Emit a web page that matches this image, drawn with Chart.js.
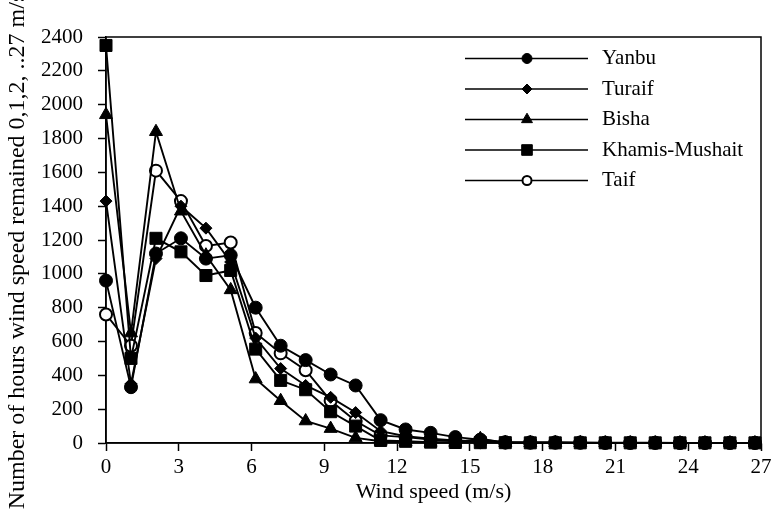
<!DOCTYPE html>
<html><head><meta charset="utf-8">
<script src="https://cdn.jsdelivr.net/npm/chart.js@4/dist/chart.umd.min.js"></script>
<style>html,body{margin:0;padding:0;background:#fff}#wrap{width:778px;height:513px}</style>
</head><body><div id="wrap"><canvas id="c" width="778" height="513"></canvas></div>
<script>
// Wind speed bins (m/s)
const windSpeeds = [0, 1.03, 2.06, 3.09, 4.12, 5.14, 6.17, 7.2, 8.23, 9.26, 10.29, 11.32, 12.35, 13.38, 14.4, 15.43, 16.46, 17.49, 18.52, 19.55, 20.58, 21.61, 22.64, 23.66, 24.69, 25.72, 26.75];
const stationNames = ['Yanbu', 'Turaif', 'Bisha', 'Khamis-Mushait', 'Taif'];
const yanbu   = [960, 330, 1120, 1210, 1090, 1110, 800, 575, 490, 405, 340, 135, 80, 60, 35, 20, 5, 4, 4, 3, 2, 2, 2, 1, 1, 1, 1];
const turaif  = [1430, 350, 1090, 1400, 1270, 1070, 620, 440, 340, 270, 180, 70, 40, 25, 15, 10, 3, 2, 2, 1, 1, 1, 0, 0, 0, 0, 0];
const bisha   = [1940, 650, 1840, 1370, 1110, 905, 378, 250, 130, 85, 30, 10, 5, 3, 3, 25, 2, 1, 1, 1, 0, 0, 0, 0, 0, 0, 0];
const khamis  = [2350, 500, 1210, 1130, 990, 1020, 555, 370, 315, 185, 100, 15, 10, 5, 3, 2, 2, 1, 1, 1, 1, 1, 1, 1, 1, 1, 1];
const taif    = [760, 575, 1610, 1430, 1165, 1185, 650, 530, 430, 250, 130, 45, 35, 20, 10, 5, 2, 1, 1, 1, 0, 0, 0, 0, 0, 0, 0];
const xTickStep = 3, xMin = 0, xMax = 27;
const yTickStep = 200, yMin = 0, yMax = 2400;
const xTitle = 'Wind speed (m/s)';
const yTitle = 'Number of hours wind speed remained 0,1,2, ..27 m/s';

const seriesValues = [yanbu, turaif, bisha, khamis, taif];
const styles = [
  {pointStyle: 'circle',   radius: 6.5, bg: '#000', bw: 1,   lr: 5},
  {pointStyle: 'rectRot',  radius: 6,   bg: '#000', bw: 1,   lr: 5},
  {pointStyle: 'triangle', radius: 7.5, bg: '#000', bw: 1,   lr: 6.3},
  {pointStyle: 'rect',     radius: 8.5, bg: '#000', bw: 1,   lr: 7.5},
  {pointStyle: 'circle',   radius: 6,   bg: '#fff', bw: 2,   lr: 4.5}
];
const FONT = "'Liberation Serif', 'Times New Roman', serif";
Chart.defaults.font.family = FONT;
Chart.defaults.color = '#000';

const datasets = stationNames.map((name, i) => ({
  label: name,
  data: windSpeeds.map((x, j) => ({x: x, y: seriesValues[i][j]})),
  borderColor: '#000',
  borderWidth: 1.9,
  tension: 0,
  pointStyle: styles[i].pointStyle,
  pointRadius: styles[i].radius,
  pointHoverRadius: styles[i].radius,
  pointBackgroundColor: styles[i].bg,
  pointBorderColor: '#000',
  pointBorderWidth: styles[i].bw,
  legendRadius: styles[i].lr,
  clip: false
}));

const framePlugin = {
  id: 'frame',
  beforeDatasetsDraw(chart) {
    const {ctx, chartArea: a} = chart;
    ctx.save();
    ctx.strokeStyle = '#000';
    ctx.lineWidth = 1.5;
    ctx.strokeRect(a.left, a.top, a.right - a.left, a.bottom - a.top);
    ctx.restore();
  }
};

const yTitlePlugin = {
  id: 'yTitle',
  afterDraw(chart) {
    const ctx = chart.ctx;
    ctx.save();
    ctx.translate(17.5, 251);
    ctx.rotate(-Math.PI / 2);
    ctx.fillStyle = '#000';
    ctx.font = '24px ' + FONT;
    ctx.textAlign = 'center';
    ctx.textBaseline = 'middle';
    ctx.fillText(yTitle, 0, 0);
    ctx.restore();
  }
};

const legendPlugin = {
  id: 'customLegend',
  afterDraw(chart) {
    const ctx = chart.ctx;
    ctx.save();
    chart.data.datasets.forEach((ds, i) => {
      const y = 58.5 + i * 30.5;
      ctx.strokeStyle = '#000';
      ctx.lineWidth = 1.5;
      ctx.beginPath();
      ctx.moveTo(465, y);
      ctx.lineTo(588, y);
      ctx.stroke();
      ctx.fillStyle = ds.pointBackgroundColor;
      ctx.strokeStyle = '#000';
      ctx.lineWidth = ds.pointBorderWidth;
      Chart.helpers.drawPoint(ctx, {pointStyle: ds.pointStyle, radius: ds.legendRadius, borderWidth: ds.pointBorderWidth, rotation: 0}, 527, y);
      ctx.fillStyle = '#000';
      ctx.font = '21px ' + FONT;
      ctx.textBaseline = 'middle';
      ctx.textAlign = 'left';
      ctx.fillText(ds.label, 602, y);
    });
    ctx.restore();
  }
};

new Chart(document.getElementById('c'), {
  type: 'line',
  data: {datasets},
  options: {
    responsive: false,
    animation: false,
    devicePixelRatio: 1,
    layout: {padding: {top: 37, right: 17, left: 0, bottom: 0}},
    plugins: {legend: {display: false}, tooltip: {enabled: false}},
    scales: {
      x: {
        type: 'linear', min: xMin, max: xMax,
        ticks: {stepSize: xTickStep, font: {size: 21}, padding: 4, color: '#000', maxRotation: 0,
                callback: v => String(v)},
        grid: {drawOnChartArea: false, tickLength: 8, tickColor: '#000', tickWidth: 1.5},
        border: {color: '#000', width: 1.5},
        title: {display: true, text: xTitle, font: {size: 22}, color: '#000', padding: {top: 0, bottom: 8}},
        afterFit(s) { s.height = 70; }
      },
      y: {
        min: yMin, max: yMax,
        ticks: {stepSize: yTickStep, font: {size: 21}, padding: 15, color: '#000',
                callback: v => String(v)},
        grid: {drawOnChartArea: false, tickLength: 8, tickColor: '#000', tickWidth: 1.5},
        border: {color: '#000', width: 1.5},
        title: {display: false},
        afterFit(s) { s.width = 106; }
      }
    }
  },
  plugins: [framePlugin, yTitlePlugin, legendPlugin]
});
</script>
</body></html>
